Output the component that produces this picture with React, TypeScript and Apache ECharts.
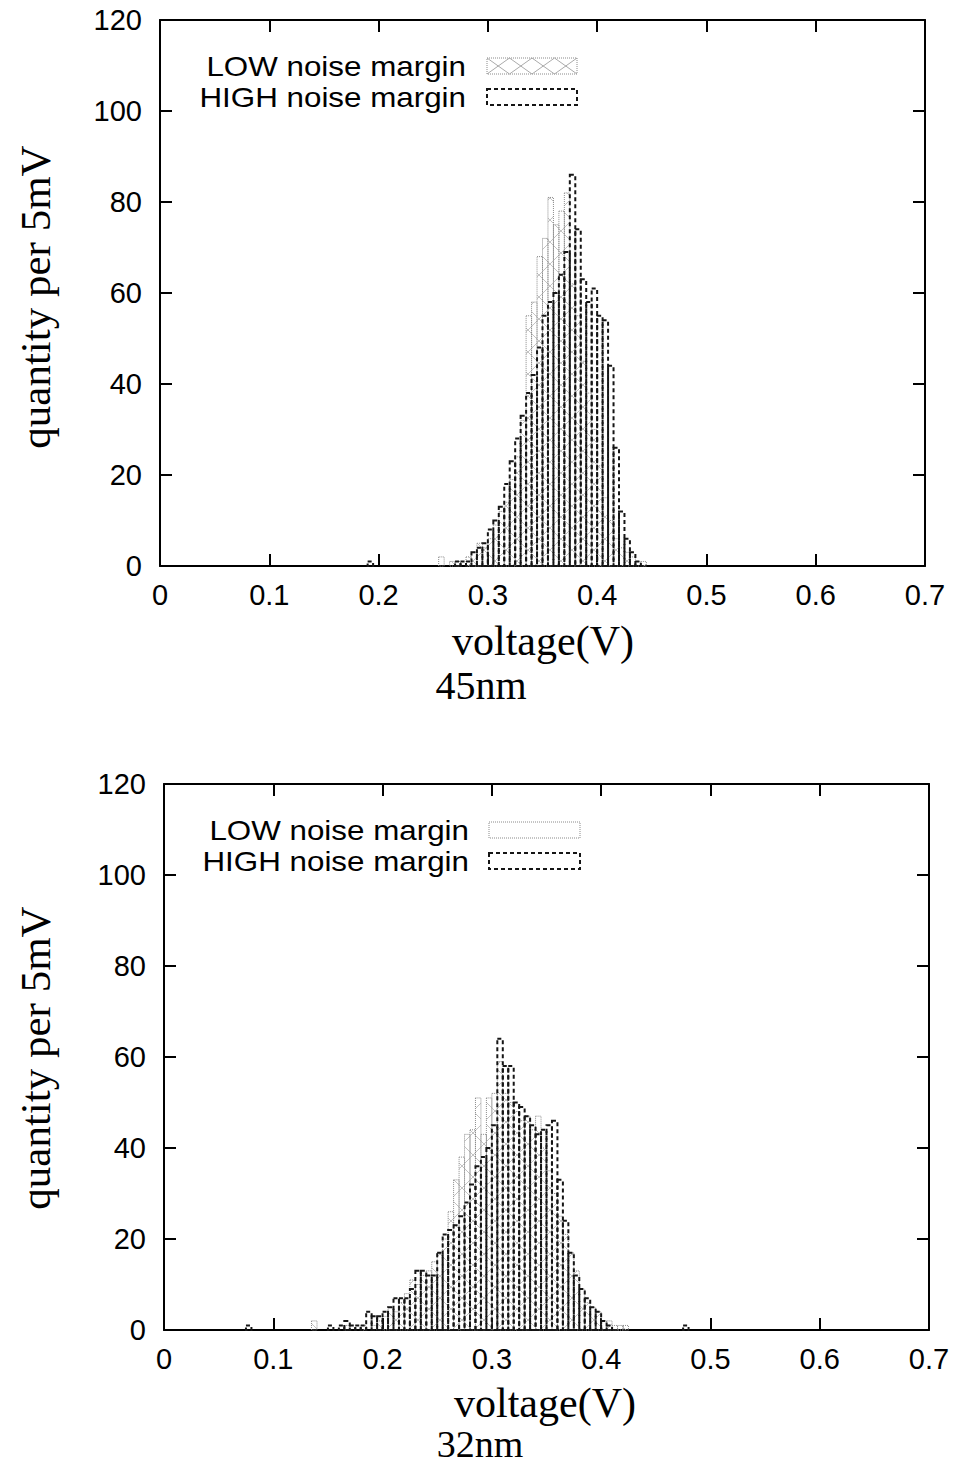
import React, { useEffect, useRef } from "react";
import * as echarts from "echarts";

// bin width of the histograms (5 mV)
const BIN_WIDTH = 0.005;

// ---- 45nm ----
const low45Start = [0.255, 0.265, 0.27, 0.28, 0.285, 0.29, 0.295, 0.3, 0.305, 0.31, 0.315, 0.32, 0.325, 0.33, 0.335, 0.34, 0.345, 0.35, 0.355, 0.36, 0.365, 0.37, 0.375, 0.38, 0.385, 0.39, 0.395, 0.4, 0.405, 0.41, 0.415, 0.42, 0.425, 0.43, 0.435, 0.44];
const low45Count = [2, 1, 1, 2, 3, 5, 4, 6, 9, 12, 14, 19, 24, 32, 55, 58, 68, 72, 81, 75, 78, 82, 62, 55, 45, 38, 30, 22, 15, 10, 6, 4, 3, 2, 1, 1];

const high45Start = [0.19, 0.27, 0.275, 0.28, 0.285, 0.29, 0.295, 0.3, 0.305, 0.31, 0.315, 0.32, 0.325, 0.33, 0.335, 0.34, 0.345, 0.35, 0.355, 0.36, 0.365, 0.37, 0.375, 0.38, 0.385, 0.39, 0.395, 0.4, 0.405, 0.41, 0.415, 0.42, 0.425, 0.43, 0.435];
const high45Count = [1, 1, 1, 1, 3, 4, 5, 8, 10, 13, 18, 23, 28, 33, 38, 42, 48, 55, 58, 60, 64, 69, 86, 74, 63, 58, 61, 55, 54, 44, 26, 12, 6, 3, 1];

// ---- 32nm ----
const low32Start = [0.135, 0.165, 0.18, 0.19, 0.195, 0.2, 0.205, 0.21, 0.215, 0.22, 0.225, 0.23, 0.235, 0.24, 0.245, 0.25, 0.255, 0.26, 0.265, 0.27, 0.275, 0.28, 0.285, 0.29, 0.295, 0.3, 0.305, 0.31, 0.315, 0.32, 0.325, 0.33, 0.335, 0.34, 0.345, 0.35, 0.355, 0.36, 0.365, 0.37, 0.375, 0.38, 0.385, 0.39, 0.395, 0.4, 0.405, 0.41, 0.415, 0.42];
const low32Count = [2, 1, 1, 1, 2, 3, 5, 4, 6, 8, 11, 10, 12, 13, 15, 17, 20, 26, 33, 38, 43, 44, 51, 43, 51, 52, 59, 52, 50, 48, 46, 47, 44, 47, 40, 35, 30, 25, 21, 17, 13, 9, 6, 5, 4, 2, 2, 1, 1, 1];

const high32Start = [0.075, 0.15, 0.16, 0.165, 0.17, 0.175, 0.18, 0.185, 0.19, 0.195, 0.2, 0.205, 0.21, 0.215, 0.22, 0.225, 0.23, 0.235, 0.24, 0.245, 0.25, 0.255, 0.26, 0.265, 0.27, 0.275, 0.28, 0.285, 0.29, 0.295, 0.3, 0.305, 0.31, 0.315, 0.32, 0.325, 0.33, 0.335, 0.34, 0.345, 0.35, 0.355, 0.36, 0.365, 0.37, 0.375, 0.38, 0.385, 0.39, 0.395, 0.4, 0.405, 0.475];
const high32Count = [1, 1, 1, 2, 1, 1, 1, 4, 3, 3, 4, 5, 7, 7, 7, 9, 13, 13, 12, 12, 17, 21, 22, 23, 25, 28, 32, 36, 38, 40, 45, 64, 58, 58, 50, 49, 47, 45, 43, 44, 45, 46, 33, 24, 17, 12, 9, 7, 5, 4, 2, 1, 1];

const LOW_NAME = "LOW noise margin";
const HIGH_NAME = "HIGH noise margin";
const X_TITLE = "voltage(V)";
const Y_TITLE = "quantity per 5mV";

const LATTICE = 22;
const SANS = '"Liberation Sans", Arial, sans-serif';
const SERIF = '"Liberation Serif", "Times New Roman", serif';

function pairs(s: number[], c: number[]) {
  return s.map((v, i) => [v, c[i]]);
}

function renderLow(_params: any, api: any) {
  const v = api.value(0);
  const n = api.value(1);
  const p0 = api.coord([v, n]);
  const p1 = api.coord([v + BIN_WIDTH, 0]);
  const x0 = p0[0], y0 = p0[1], x1 = p1[0], y1 = p1[1];
  const children: any[] = [];
  const lineStyle = { stroke: "#b4b4b4", lineWidth: 0.8 };
  // family y = x + c
  for (let k = Math.ceil((y0 - x1) / LATTICE); k <= Math.floor((y1 - x0) / LATTICE); k++) {
    const c = k * LATTICE;
    const xa = Math.max(x0, y0 - c);
    const xb = Math.min(x1, y1 - c);
    if (xb > xa) children.push({ type: "line", shape: { x1: xa, y1: xa + c, x2: xb, y2: xb + c }, style: lineStyle });
  }
  // family y = -x + c
  for (let k = Math.ceil((x0 + y0) / LATTICE); k <= Math.floor((x1 + y1) / LATTICE); k++) {
    const c = k * LATTICE;
    const xa = Math.max(x0, c - y1);
    const xb = Math.min(x1, c - y0);
    if (xb > xa) children.push({ type: "line", shape: { x1: xa, y1: c - xa, x2: xb, y2: c - xb }, style: lineStyle });
  }
  children.push({
    type: "rect",
    shape: { x: x0, y: y0, width: x1 - x0, height: y1 - y0 },
    style: { fill: "rgba(0,0,0,0)", stroke: "#8a8a8a", lineWidth: 1, lineDash: [1, 1] },
  });
  return { type: "group", children };
}

function renderHigh(_params: any, api: any) {
  const v = api.value(0);
  const n = api.value(1);
  const p0 = api.coord([v, n]);
  const p1 = api.coord([v + BIN_WIDTH, 0]);
  return {
    type: "rect",
    shape: { x: p0[0], y: p0[1], width: p1[0] - p0[0], height: p1[1] - p0[1] },
    style: { fill: "rgba(0,0,0,0)", stroke: "#151515", lineWidth: 2, lineDash: [4, 3] },
  };
}

const grids = [
  { left: 160, right: 31, top: 20, height: 546 },
  { left: 164, right: 27, top: 784, height: 546 },
];

function axesFor(gridIndex: number) {
  const line = { show: true, onZero: false, lineStyle: { color: "#000", width: 2 } };
  const tick = { show: true, inside: true, length: 12, lineStyle: { color: "#000", width: 2 } };
  const xs = [
    {
      type: "value", gridIndex, min: 0, max: 0.7, interval: 0.1, position: "bottom",
      axisLine: line, axisTick: tick, splitLine: { show: false },
      axisLabel: { color: "#000", fontFamily: SANS, fontSize: 29, margin: 14 },
    },
    {
      type: "value", gridIndex, min: 0, max: 0.7, interval: 0.1, position: "top",
      axisLine: line, axisTick: tick, splitLine: { show: false }, axisLabel: { show: false },
    },
  ];
  const ys = [
    {
      type: "value", gridIndex, min: 0, max: 120, interval: 20, position: "left",
      axisLine: line, axisTick: tick, splitLine: { show: false },
      axisLabel: { color: "#000", fontFamily: SANS, fontSize: 29, margin: 18 },
    },
    {
      type: "value", gridIndex, min: 0, max: 120, interval: 20, position: "right",
      axisLine: line, axisTick: tick, splitLine: { show: false }, axisLabel: { show: false },
    },
  ];
  return { xs, ys };
}

function legendText(text: string, x: number, y: number) {
  return {
    type: "text", x, y, scaleX: 1.12, scaleY: 1,
    style: { text, fill: "#000", font: `28px ${SANS}`, lineHeight: 28, align: "right", verticalAlign: "middle" },
  };
}

function legendGraphics(textRight: number, y1: number, y2: number, boxX: number, boxW: number, withX: boolean) {
  const els: any[] = [
    legendText(LOW_NAME, textRight, y1),
    legendText(HIGH_NAME, textRight, y2),
    { type: "rect", shape: { x: boxX, y: y1 - 8, width: boxW, height: 16 }, style: { fill: "rgba(0,0,0,0)", stroke: "#8a8a8a", lineWidth: 1, lineDash: [1, 1] } },
    { type: "rect", shape: { x: boxX, y: y2 - 8, width: boxW, height: 16 }, style: { fill: "rgba(0,0,0,0)", stroke: "#151515", lineWidth: 2, lineDash: [4, 3] } },
  ];
  if (withX) {
    const cw = boxW / 4;
    for (let i = 0; i < 4; i++) {
      els.push({ type: "line", shape: { x1: boxX + i * cw, y1: y1 - 8, x2: boxX + (i + 1) * cw, y2: y1 + 8 }, style: { stroke: "#a0a0a0", lineWidth: 0.9 } });
      els.push({ type: "line", shape: { x1: boxX + (i + 1) * cw, y1: y1 - 8, x2: boxX + i * cw, y2: y1 + 8 }, style: { stroke: "#a0a0a0", lineWidth: 0.9 } });
    }
  }
  return els;
}

export default function App() {
  const ref = useRef<HTMLDivElement>(null);
  useEffect(() => {
    if (!ref.current) return;
    const chart = echarts.init(ref.current, undefined, { renderer: "svg" });
    const a0 = axesFor(0);
    const a1 = axesFor(1);
    const serifText = (text: string, x: number, y: number, rotation = 0, size = 42) => ({
      type: "text", x, y, rotation,
      style: { text, fill: "#000", font: `${size}px ${SERIF}`, lineHeight: size, align: "center", verticalAlign: "middle" },
    });
    chart.setOption({
      animation: false,
      backgroundColor: "#ffffff",
      grid: grids,
      xAxis: [...a0.xs, ...a1.xs],
      yAxis: [...a0.ys, ...a1.ys],
      series: [
        { type: "custom", name: LOW_NAME, xAxisIndex: 0, yAxisIndex: 0, silent: true, renderItem: renderLow, data: pairs(low45Start, low45Count) },
        { type: "custom", name: HIGH_NAME, xAxisIndex: 0, yAxisIndex: 0, silent: true, renderItem: renderHigh, data: pairs(high45Start, high45Count) },
        { type: "custom", name: LOW_NAME, xAxisIndex: 2, yAxisIndex: 2, silent: true, renderItem: renderLow, data: pairs(low32Start, low32Count) },
        { type: "custom", name: HIGH_NAME, xAxisIndex: 2, yAxisIndex: 2, silent: true, renderItem: renderHigh, data: pairs(high32Start, high32Count) },
      ],
      graphic: [
        ...legendGraphics(466, 66, 97, 487, 90, true),
        ...legendGraphics(469, 830, 861, 489, 91, false),
        serifText(Y_TITLE, 35, 297, Math.PI / 2, 43),
        serifText(Y_TITLE, 35, 1058, Math.PI / 2, 43),
        serifText(X_TITLE, 543, 641, 0, 42),
        serifText(X_TITLE, 545, 1403, 0, 42),
        serifText("45nm", 481, 685, 0, 40),
        serifText("32nm", 480, 1444, 0, 38),
      ],
    });
    return () => chart.dispose();
  }, []);
  return (
    <div
      ref={ref}
      style={{ position: "absolute", left: 0, top: 0, width: 956, height: 1467, background: "#fff" }}
    />
  );
}
